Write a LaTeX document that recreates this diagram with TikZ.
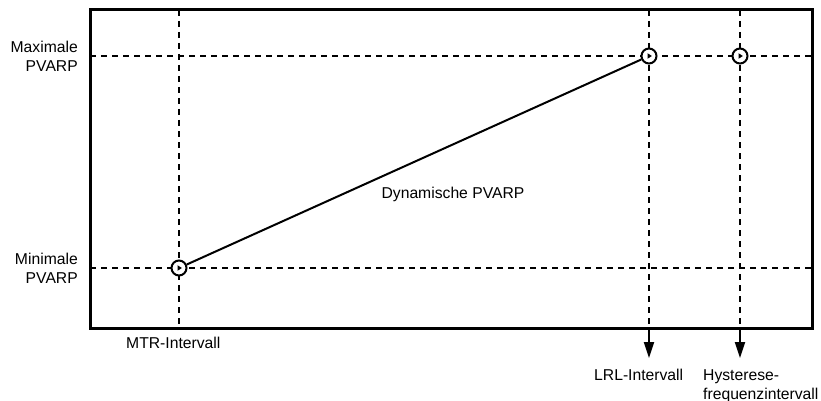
\documentclass[tikz,border=0pt]{standalone}
\usepackage{fontspec}
\setmainfont{Liberation Sans}
\usepackage{tikz}
\usetikzlibrary{arrows.meta}

\begin{document}
\begin{tikzpicture}[x=1pt, y=-1pt,
  frame/.style={line width=3pt},
  grid/.style={line width=2pt, dash pattern=on 6pt off 5pt},
  marker/.style={circle, draw, fill=white, line width=2pt, minimum size=15pt, inner sep=0pt,
    path picture={\fill[black, shift={(path picture bounding box.center)}]
      (-1.5pt,2.8pt) -- (2.8pt,0pt) -- (-1.5pt,-2.8pt) -- cycle;}},
  lbl/.style={font=\fontsize{15.7}{19}\selectfont, inner sep=0pt},
  arr/.style={-{Triangle[length=16pt, width=10pt]}, line width=2pt}
]
\useasboundingbox (0,0) rectangle (821,401);
\coordinate (tl) at (90,10);
\coordinate (br) at (812,328);
\coordinate (maxl) at (90,56);   \coordinate (maxr) at (812,56);
\coordinate (minl) at (90,268);  \coordinate (minr) at (812,268);
\coordinate (mtrt) at (179,10);  \coordinate (mtrb) at (179,328);
\coordinate (lrlt) at (649,10);  \coordinate (lrlb) at (649,328);
\coordinate (hyst) at (740,10);  \coordinate (hysb) at (740,328);
\coordinate (lrlend) at (649,358);
\coordinate (hysend) at (740,358);

\draw[grid] (maxl) -- (maxr);
\draw[grid] (minl) -- (minr);
\draw[grid] (mtrt) -- (mtrb);
\draw[grid] (lrlt) -- (lrlb);
\draw[grid] (hyst) -- (hysb);
\draw[frame] (tl) rectangle (br);

\node[marker] (mtrmin) at (179,268) {};
\node[marker] (lrlmax) at (649,56) {};
\node[marker] (hysmax) at (740,56) {};
\draw[line width=2pt] (mtrmin) -- (lrlmax);

\draw[arr] (lrlb) -- (lrlend);
\draw[arr] (hysb) -- (hysend);

\node[lbl, anchor=east, align=right] (maxlbl) at (78,56) {Maximale\\PVARP};
\node[lbl, anchor=east, align=right] (minlbl) at (78,268) {Minimale\\PVARP};
\node[lbl, anchor=base] (dynlbl) at (453,198) {Dynamische PVARP};
\node[lbl, anchor=base west] (mtrlbl) at (126,348) {MTR-Intervall};
\node[lbl, anchor=base west] (lrllbl) at (594,380) {LRL-Intervall};
\node[lbl, anchor=north west, align=left] (hyslbl) at (703,369) {Hysterese-\\frequenzintervall};
\end{tikzpicture}
\end{document}
